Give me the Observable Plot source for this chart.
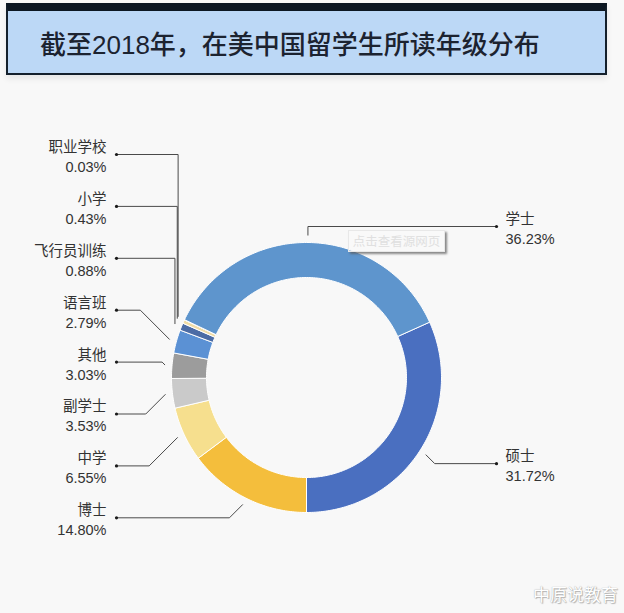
<!DOCTYPE html>
<html>
<head>
<meta charset="utf-8">
<script src="https://cdn.jsdelivr.net/npm/d3@7"></script>
<script src="https://cdn.jsdelivr.net/npm/@observablehq/plot@0.6"></script>
<style>
  html, body { margin: 0; padding: 0; background: #f8f8f8; width: 624px; height: 613px; overflow: hidden; }
  body { position: relative; font-family: "Liberation Sans", "Noto Sans CJK SC", sans-serif; }
  #head { height: 78px; position: relative; }
  #titlebox {
    position: absolute; left: 6px; top: 3px; width: 597px; height: 62px;
    background: #bcd8f6;
    border-top: 8px solid #0c1722; border-left: 2px solid #14202c; border-right: 2px solid #14202c; border-bottom: 2px solid #14202c;
    box-shadow: 0 4px 6px rgba(0,0,0,0.07);
  }
  #titlebox span {
    position: absolute; left: 32px; top: 50%; transform: translateY(-50%);
    font-family: "Liberation Sans", "Noto Sans CJK SC", sans-serif;
    font-size: 26px; font-weight: 500; color: #1c2330; white-space: nowrap;
  }
  #chart svg { display: block; }
  #btn {
    position: absolute; left: 348px; top: 230px; width: 95px; height: 20px;
    border: 1px solid #e8e8e8; background: rgba(250,250,250,0.55);
    box-shadow: 2px 2px 2px rgba(90,90,90,0.7);
    font-family: "Noto Sans CJK SC", sans-serif; font-size: 12.5px; color: #e0e0e0;
    text-align: center; line-height: 20px;
  }
  #wm {
    position: absolute; right: 6px; top: 581px;
    font-family: "Noto Sans CJK SC", sans-serif; font-size: 17px; color: #ffffff;
    text-shadow: 0 0 1px #9a9a9a, 1px 1px 1px #b5b5b5;
  }
</style>
</head>
<body>
<div id="head"><div id="titlebox"><span>截至2018年，在美中国留学生所读年级分布</span></div></div>
<div id="chart"></div>
<div id="btn">点击查看源网页</div>
<div id="wm">中原说教育</div>
<script>
// ---- data (clockwise order, starting at 硕士) ----
const names  = ["硕士", "博士", "中学", "副学士", "其他", "语言班", "飞行员训练", "小学", "职业学校", "学士"];
const shares = [31.72, 14.80, 6.55, 3.53, 3.03, 2.79, 0.88, 0.43, 0.03, 36.23];
const colors = ["#4a6fc0", "#f4be3c", "#f6df8e", "#cacaca", "#9c9c9c", "#5b91d4", "#4c6ca5", "#efdca6", "#e3d3a3", "#5e95cd"];
const leftLabels  = ["职业学校", "小学", "飞行员训练", "语言班", "其他", "副学士", "中学", "博士"];
const rightLabels = ["学士", "硕士"];

// ---- layout ----
const W = 624, H = 535;
const CX = 306, CY = 299;          // ring centre inside the svg (px)
const R = 135, r0 = 100, RL = 142;  // outer, inner, leader radius
const labelX = 190, leftTop = -223, leftStep = 51.9;

const rows = names.map((name, i) => ({name, share: shares[i], color: colors[i]}));
const total = d3.sum(shares);
const start = Math.PI - 2 * Math.PI * shares[0] / total;
const arcs = d3.pie().sort(null).value(d => d.share)
  .startAngle(start).endAngle(start + 2 * Math.PI)(rows);
const pt = (rad, a) => [rad * Math.sin(a), -rad * Math.cos(a)];

// slice polygons
const slicePts = arcs.flatMap(a => {
  const n = Math.max(2, Math.ceil((a.endAngle - a.startAngle) / (Math.PI / 180)));
  const out = [];
  for (let k = 0; k <= n; k++) out.push(pt(R, a.startAngle + (a.endAngle - a.startAngle) * k / n));
  for (let k = n; k >= 0; k--) out.push(pt(r0, a.startAngle + (a.endAngle - a.startAngle) * k / n));
  out.push(out[0]);
  return out.map(([x, y]) => ({name: a.data.name, x, y}));
});

const byName = new Map(arcs.map(a => [a.data.name, a]));
const labels = [];
leftLabels.forEach((name, i) => {
  const a = byName.get(name);
  const [ex, ey] = pt(RL, (a.startAngle + a.endAngle) / 2);
  labels.push({name, share: a.data.share, side: -1, lx: -labelX, ly: leftTop + leftStep * i, ex, ey});
});
rightLabels.forEach(name => {
  const a = byName.get(name);
  const [ex, ey] = pt(RL, (a.startAngle + a.endAngle) / 2);
  labels.push({name, share: a.data.share, side: 1, lx: labelX, ly: ey + 9 * Math.sign(ey), ex, ey});
});
const leaderPts = labels.flatMap(l => {
  const dy = Math.abs(l.ly - l.ey);
  let bx = l.ex + l.side * dy;
  // vertical drop when the diagonal would overrun the dot, or the slice sits at the top of the ring
  if (l.side * bx > labelX - 4 || Math.abs(l.ex) < 30) bx = l.ex;
  return [
    {name: l.name, x: l.lx, y: l.ly},
    {name: l.name, x: bx, y: l.ly},
    {name: l.name, x: l.ex, y: l.ey}
  ];
});
const fmt = d => d.name + "\n" + d.share.toFixed(2) + "%";

const plot = Plot.plot({
  width: W, height: H,
  marginTop: 0, marginBottom: 0, marginLeft: 0, marginRight: 0,
  x: {domain: [-CX, W - CX], axis: null},
  y: {domain: [H - CY, -CY], axis: null},
  color: {domain: names, range: colors},
  style: {background: "transparent", fontFamily: '"Liberation Sans","Noto Sans CJK SC",sans-serif', overflow: "visible"},
  marks: [
    Plot.line(slicePts, {x: "x", y: "y", z: "name", fill: "name", stroke: "#ffffff", strokeWidth: 1, curve: "linear"}),
    Plot.line(leaderPts, {x: "x", y: "y", z: "name", stroke: "#4a4a4a", strokeWidth: 1, strokeLinecap: "butt", strokeLinejoin: "miter"}),
    Plot.dot(labels, {x: "lx", y: "ly", r: 1.6, fill: "#1a1a1a", stroke: null}),
    Plot.text(labels.filter(d => d.side < 0), {x: "lx", y: "ly", text: fmt, dx: -10, dy: 1, textAnchor: "end", lineAnchor: "middle", lineHeight: 1.38, fontSize: 14.5, fill: "#333"}),
    Plot.text(labels.filter(d => d.side > 0), {x: "lx", y: "ly", text: fmt, dx: 9, dy: 1, textAnchor: "start", lineAnchor: "middle", lineHeight: 1.38, fontSize: 14.5, fill: "#333"})
  ]
});
document.getElementById("chart").appendChild(plot);
</script>
</body>
</html>
